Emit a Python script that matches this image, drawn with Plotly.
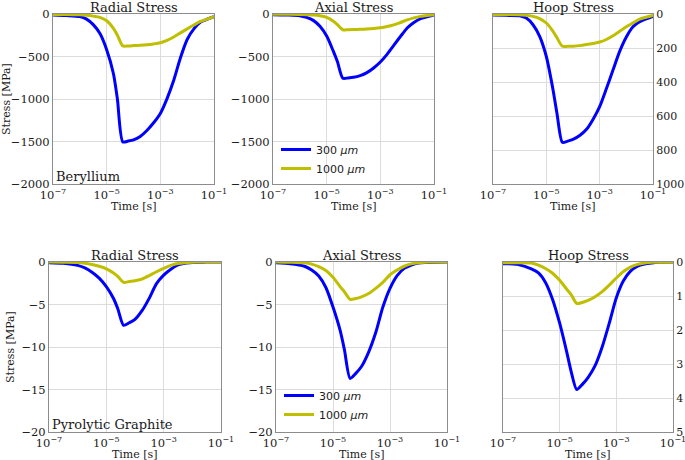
import plotly.graph_objects as go

# ---------------- data ----------------
time_s = [1e-7, 3.16e-7, 1e-6, 1.78e-6, 3.16e-6, 5.62e-6, 1e-5, 1.78e-5, 2.51e-5,
          4e-5, 6.31e-5, 1e-4, 1.78e-4, 3.16e-4, 5.62e-4, 1e-3, 1.78e-3, 3.16e-3,
          5.62e-3, 1e-2, 1.78e-2, 3.16e-2, 1e-1]

# Beryllium [MPa]
be_radial_300 = [-12, -18, -30, -60, -125, -230, -420, -700, -1000, -1505, -1495, -1480,
                 -1440, -1370, -1280, -1170, -995, -780, -515, -300, -175, -95, -30]
be_radial_1000 = [-5, -6, -10, -15, -25, -40, -80, -170, -250, -375, -375, -372,
                  -368, -362, -352, -338, -310, -270, -222, -175, -130, -88, -30]
be_axial_300 = [-8, -12, -20, -40, -75, -145, -260, -440, -560, -755, -752, -745,
                -725, -690, -635, -565, -475, -370, -265, -165, -100, -55, -10]
be_axial_1000 = [-3, -4, -5, -8, -12, -20, -40, -85, -125, -185, -185, -183,
                 -180, -176, -170, -162, -148, -128, -100, -70, -45, -28, -8]
be_hoop_300 = [6, 8, 10, 24, 63, 131, 250, 445, 585, 755, 748, 738,
               715, 680, 620, 545, 440, 330, 220, 135, 75, 45, 14]
be_hoop_1000 = [3, 3, 4, 8, 14, 27, 53, 102, 140, 190, 190, 189,
                186, 180, 173, 165, 150, 128, 102, 75, 52, 30, 8]

# Pyrolytic graphite [MPa]
pg_radial_300 = [-0.08, -0.15, -0.4, -0.7, -1.2, -1.9, -2.9, -4.3, -5.5, -7.45, -7.15, -6.75,
                 -5.7, -4.25, -2.55, -1.55, -0.85, -0.35, -0.15, -0.07, -0.03, -0.01, 0]
pg_radial_1000 = [0, -0.02, -0.05, -0.15, -0.3, -0.5, -0.8, -1.3, -1.7, -2.4, -2.3, -2.2,
                  -2.0, -1.6, -1.15, -0.75, -0.4, -0.18, -0.08, -0.03, -0.01, 0, 0]
pg_axial_300 = [-0.1, -0.2, -0.5, -0.95, -1.65, -3.0, -5.3, -8.05, -10.3, -13.7, -13.1, -12.3,
                -10.6, -8.3, -5.3, -3.1, -1.6, -0.75, -0.35, -0.12, -0.05, -0.02, 0]
pg_axial_1000 = [0, -0.03, -0.1, -0.25, -0.55, -1.0, -1.8, -2.9, -3.5, -4.4, -4.3, -4.1,
                 -3.7, -3.1, -2.4, -1.5, -0.95, -0.5, -0.22, -0.08, -0.03, -0.01, 0]
pg_hoop_300 = [0.05, 0.07, 0.2, 0.32, 0.6, 1.1, 1.8, 2.65, 3.2, 3.75, 3.6, 3.4,
               3.05, 2.5, 1.8, 1.05, 0.55, 0.27, 0.12, 0.06, 0.03, 0.01, 0]
pg_hoop_1000 = [0.02, 0.02, 0.03, 0.09, 0.19, 0.33, 0.54, 0.8, 0.95, 1.22, 1.19, 1.13,
                1.02, 0.87, 0.68, 0.47, 0.28, 0.15, 0.07, 0.03, 0.01, 0.01, 0]

series_names = ["300 <i>μm</i>", "1000 <i>μm</i>"]
panel_titles = ["Radial Stress", "Axial Stress", "Hoop Stress"]
x_tickvals = [1e-7, 1e-5, 1e-3, 1e-1]
x_ticktext = ["10<sup>−7</sup>", "10<sup>−5</sup>", "10<sup>−3</sup>", "10<sup>−1</sup>"]
be_ticks = [0, -500, -1000, -1500, -2000]
be_hoop_ticks = [0, 200, 400, 600, 800, 1000]
pg_ticks = [0, -5, -10, -15, -20]
pg_hoop_ticks = [0, 1, 2, 3, 4, 5]
materials = ["Beryllium", "Pyrolytic Graphite"]

# ---------------- layout ----------------
W, H = 685, 460
BLUE = "#0000ff"
YELLOW = "#bfbf00"
SERIF = "DejaVu Serif"
SANS = "DejaVu Sans"
TXT = "#1a1a1a"

panels = [
    (53, 214, 14, 184, be_radial_300, be_radial_1000, be_ticks, "left", False),
    (273, 434, 14, 184, be_axial_300, be_axial_1000, be_ticks, "left", False),
    (493, 653, 14, 184, be_hoop_300, be_hoop_1000, be_hoop_ticks, "right", True),
    (49, 221, 262, 432, pg_radial_300, pg_radial_1000, pg_ticks, "left", False),
    (276, 447, 262, 432, pg_axial_300, pg_axial_1000, pg_ticks, "left", False),
    (503, 673, 262, 432, pg_hoop_300, pg_hoop_1000, pg_hoop_ticks, "right", True),
]

fig = go.Figure()
annotations = []

def fmt(v):
    return f"{v:g}".replace("-", "−")

for i, (x0, x1, yt, yb, y300, y1000, ticks, side, rev) in enumerate(panels):
    n = i + 1
    xa = "x" if n == 1 else f"x{n}"
    ya = "y" if n == 1 else f"y{n}"
    leg = "legend" if i == 1 else ("legend2" if i == 4 else None)
    for vals, name, col in ((y300, series_names[0], BLUE), (y1000, series_names[1], YELLOW)):
        tr = dict(x=time_s, y=vals, mode="lines", name=name,
                  line=dict(color=col, width=3, shape="spline", smoothing=0.7),
                  xaxis=xa, yaxis=ya, showlegend=leg is not None)
        if leg:
            tr["legend"] = leg
        fig.add_trace(go.Scatter(**tr))
    xkey = "xaxis" if n == 1 else f"xaxis{n}"
    ykey = "yaxis" if n == 1 else f"yaxis{n}"
    rng = [max(ticks), min(ticks)] if rev else [min(ticks), max(ticks)]
    fig.update_layout(**{
        xkey: dict(domain=[x0 / W, x1 / W], anchor=ya, type="log", range=[-7, -1],
                   tickvals=x_tickvals, ticktext=x_ticktext, automargin=False,
                   ticklabeloverflow="allow",
                   showgrid=True, gridcolor="#dcdcdc", gridwidth=1,
                   showline=True, linecolor="#8c8c8c", linewidth=1, mirror=True,
                   ticks="",
                   tickfont=dict(family=SERIF, size=11.5, color=TXT),
                   zeroline=False),
        ykey: dict(domain=[1 - yb / H, 1 - yt / H], anchor=xa, range=rng, automargin=False,
                   tickvals=ticks, ticktext=[fmt(v) for v in ticks], side=side,
                   ticklabeloverflow="allow",
                   showgrid=True, gridcolor="#dcdcdc", gridwidth=1,
                   showline=True, linecolor="#8c8c8c", linewidth=1, mirror=True,
                   ticks="",
                   tickfont=dict(family=SERIF, size=11.5 if side == "left" else 11, color=TXT),
                   zeroline=False),
    })
    if i in (0, 3):
        fig.update_layout(**{ykey: dict(title=dict(text="Stress [MPa]",
                                                   font=dict(family=SERIF, size=11, color=TXT),
                                                   standoff=4))})
    # x axis title
    annotations.append(dict(text="Time [s]", x=(x0 + x1) / 2 / W, y=1 - (yb + 22) / H,
                            xref="paper", yref="paper", xanchor="center", yanchor="middle",
                            showarrow=False, font=dict(family=SERIF, size=11, color=TXT)))
    # panel title
    annotations.append(dict(text=panel_titles[i % 3], x=(x0 + x1) / 2 / W, y=1 - yt / H,
                            xref="paper", yref="paper", xanchor="center", yanchor="bottom",
                            showarrow=False, yshift=-3,
                            font=dict(family=SERIF, size=13, color=TXT)))
    if i in (0, 3):
        annotations.append(dict(text=materials[i // 3], x=(x0 + 1) / W, y=1 - yb / H,
                                xref="paper", yref="paper", xanchor="left", yanchor="bottom",
                                showarrow=False, yshift=-2,
                                font=dict(family=SERIF, size=13, color=TXT)))

legend_style = dict(font=dict(family=SANS, size=11, color=TXT), bgcolor="rgba(0,0,0,0)",
                    borderwidth=0, xanchor="left", yanchor="top", tracegroupgap=0,
                    itemwidth=30)
fig.update_layout(
    width=W, height=H, margin=dict(l=0, r=0, t=0, b=0, autoexpand=False),
    paper_bgcolor="white", plot_bgcolor="white",
    annotations=annotations,
    legend=dict(x=276 / W, y=1 - 135 / H, **legend_style),
    legend2=dict(x=279 / W, y=1 - 381 / H, **legend_style),
)

fig.write_html("out.html", config={"displayModeBar": False},
               post_script="document.body.style.margin='0';document.body.style.overflow='hidden';")
